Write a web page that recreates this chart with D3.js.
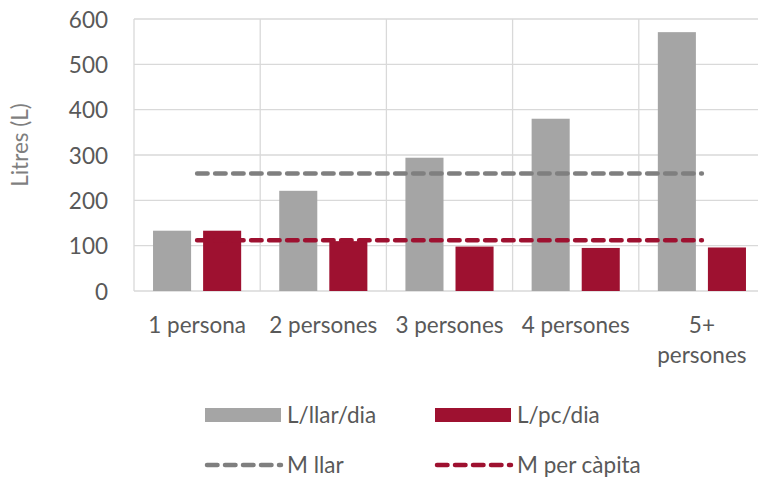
<!DOCTYPE html>
<html>
<head>
<meta charset="utf-8">
<script src="https://cdn.jsdelivr.net/npm/d3@7"></script>
<style>
  html, body { margin: 0; padding: 0; background: #fff; }
  svg { display: block; }
  text { font-family: Lato, "Open Sans", sans-serif; }
</style>
</head>
<body>
<svg id="chart" width="758" height="480"></svg>
<script>
// ---- data ----
const categories = ["1 persona", "2 persones", "3 persones", "4 persones", "5+ persones"];
const llarDia = [133, 221, 294, 380, 571];      // L/llar/dia
const pcDia = [133, 110, 98, 95, 96];           // L/pc/dia
const mitjanaLlar = [259, 259, 259, 259, 259];  // M llar
const mitjanaPc = [112, 112, 112, 112, 112];    // M per càpita
const yTicks = [0, 100, 200, 300, 400, 500, 600];
const seriesNames = ["L/llar/dia", "L/pc/dia"];
const lineNames = ["M llar", "M per càpita"];

// ---- styles ----
const cGray = "#a5a5a5", cRed = "#9e1130", cGrayLine = "#7f7f7f", cRedLine = "#9e1130";
const textCol = "#595959";
const fontSize = 22.5;

const svg = d3.select("#chart");
const pLeft = 134, pRight = 765, pTop = 19, pBottom = 291;

const x = d3.scaleBand().domain(categories).range([pLeft, pRight]).paddingInner(0).paddingOuter(0);
const xs = d3.scaleBand().domain(seriesNames).range([0, x.bandwidth()]).paddingInner(0.24).paddingOuter(0.38);
const y = d3.scaleLinear().domain([0, 600]).range([pBottom, pTop]);

// gridlines horizontal
svg.append("g").selectAll("line").data(yTicks).join("line")
  .attr("x1", pLeft).attr("x2", pRight)
  .attr("y1", d => y(d)).attr("y2", d => y(d))
  .attr("stroke", "#d9d9d9").attr("stroke-width", 1.3);

// vertical gridlines (category boundaries)
const bounds = categories.map(c => x(c));
svg.append("g").selectAll("line").data(bounds).join("line")
  .attr("x1", d => d).attr("x2", d => d)
  .attr("y1", pTop).attr("y2", pBottom)
  .attr("stroke", "#d9d9d9").attr("stroke-width", 1.3);

// y tick labels
svg.append("g").selectAll("text").data(yTicks).join("text")
  .attr("x", 108).attr("y", d => y(d) + 8.5)
  .attr("text-anchor", "end")
  .attr("font-size", fontSize).attr("fill", textCol)
  .text(d => d);

// y axis title
svg.append("text")
  .attr("transform", "translate(28,145) rotate(-90)")
  .attr("text-anchor", "middle")
  .attr("font-size", fontSize).attr("fill", "#7f7f7f")
  .text("Litres (L)");

// bars
const barData = categories.map((c, i) => [
  { cat: c, s: seriesNames[0], v: llarDia[i], col: cGray },
  { cat: c, s: seriesNames[1], v: pcDia[i], col: cRed }
]).flat();
svg.append("g").selectAll("rect").data(barData).join("rect")
  .attr("x", d => x(d.cat) + xs(d.s))
  .attr("width", xs.bandwidth())
  .attr("y", d => y(d.v))
  .attr("height", d => y(0) - y(d.v))
  .attr("fill", d => d.col);

// dashed mean lines
const line = d3.line().x(d => x(d.cat) + x.bandwidth() / 2).y(d => y(d.v));
[[mitjanaLlar, cGrayLine], [mitjanaPc, cRedLine]].forEach(([arr, col]) => {
  svg.append("path")
    .datum(categories.map((c, i) => ({ cat: c, v: arr[i] })))
    .attr("d", line)
    .attr("fill", "none")
    .attr("stroke", col).attr("stroke-width", 4.5)
    .attr("stroke-linecap", "round")
    .attr("stroke-dasharray", "10.5,7.5");
});

// x labels with wrap (wrap when wider than the category slot allows)
const wrapWidth = 114;
const xl = svg.append("g").selectAll("text").data(categories).join("text")
  .attr("text-anchor", "middle")
  .attr("font-size", fontSize).attr("fill", textCol)
  .attr("x", d => x(d) + x.bandwidth() / 2)
  .attr("y", 333);
xl.each(function (d) {
  const t = d3.select(this);
  t.text(d);
  if (this.getComputedTextLength() > wrapWidth) {
    const parts = d.split(" ");
    t.text(null);
    parts.forEach((p, k) => {
      t.append("tspan").attr("x", x(d) + x.bandwidth() / 2).attr("dy", k === 0 ? 0 : 30).text(p);
    });
  }
});

// legend
const legX = [205, 435];
const legendBars = [[seriesNames[0], cGray], [seriesNames[1], cRed]];
legendBars.forEach(([name, col], i) => {
  svg.append("rect").attr("x", legX[i]).attr("y", 408).attr("width", 76).attr("height", 14).attr("fill", col);
  svg.append("text").attr("x", legX[i] + 82).attr("y", 423)
    .attr("font-size", fontSize).attr("fill", textCol).text(name);
});
const legendLines = [[lineNames[0], cGrayLine], [lineNames[1], cRedLine]];
legendLines.forEach(([name, col], i) => {
  svg.append("line").attr("x1", legX[i] + 2).attr("x2", legX[i] + 76).attr("y1", 465).attr("y2", 465)
    .attr("stroke", col).attr("stroke-width", 4.5).attr("stroke-linecap", "round")
    .attr("stroke-dasharray", "10.5,7.5");
  svg.append("text").attr("x", legX[i] + 82).attr("y", 473)
    .attr("font-size", fontSize).attr("fill", textCol).text(name);
});
</script>
</body>
</html>
